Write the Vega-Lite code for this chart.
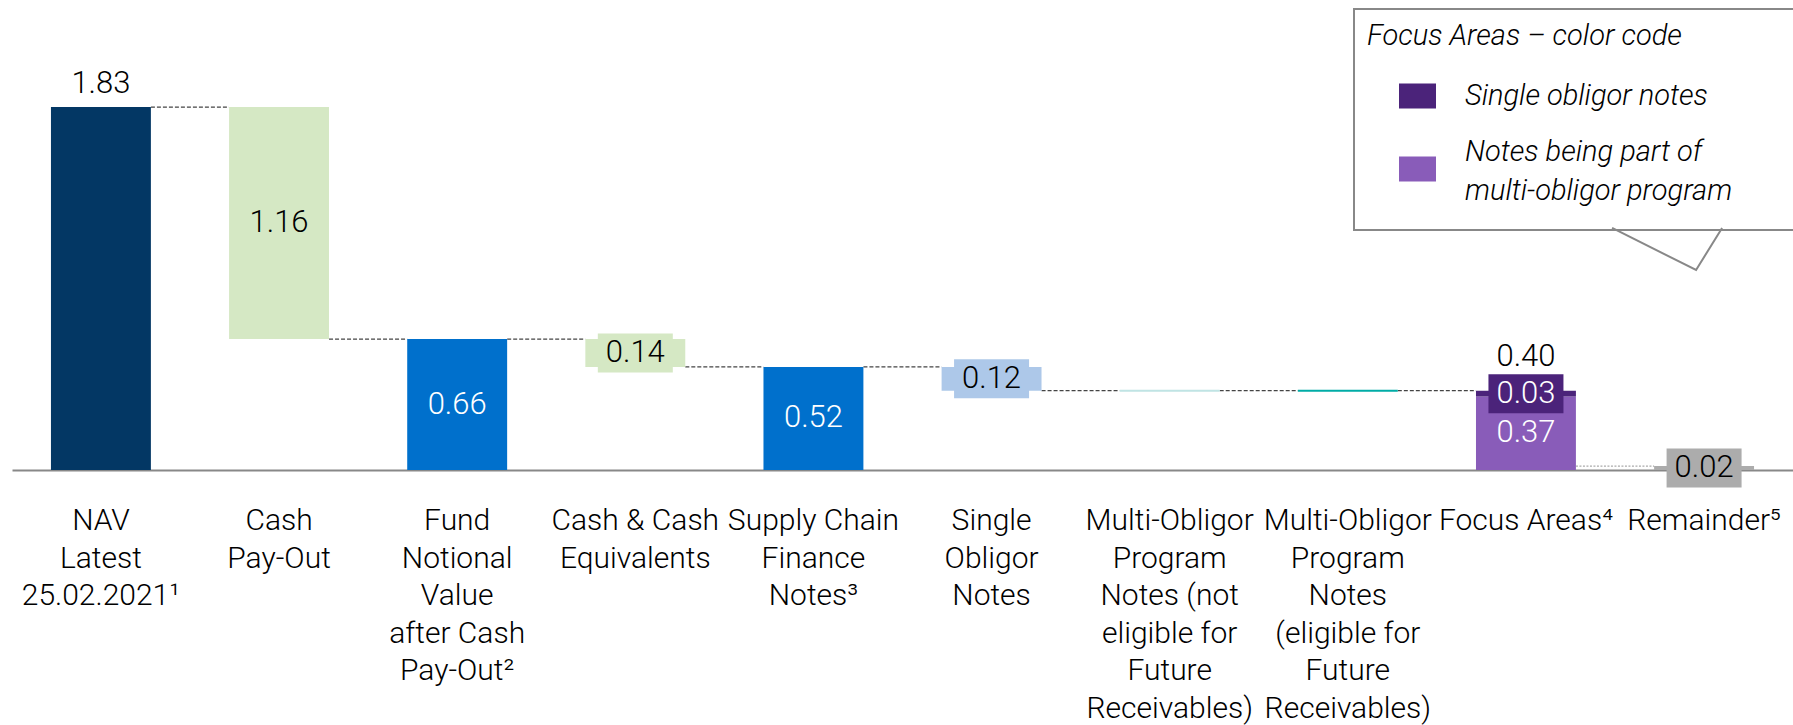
{
  "$schema": "https://vega.github.io/schema/vega-lite/v6.json",
  "autosize": {"type": "none"},
  "padding": {"left": 12, "top": 0, "right": 0, "bottom": 255},
  "width": 1781,
  "height": 470,
  "background": "white",
  "config": {"view": {"stroke": null}, "legend": {"strokeWidth": 2}},
  "datasets": {
    "bars": [
      {"cat": "NAV|Latest|25.02.2021¹", "seg": "NAV", "start": 0, "end": 1.83, "label": "1.83"},
      {"cat": "Cash|Pay-Out", "seg": "Cash Pay-Out", "start": 1.83, "end": 0.66, "label": "1.16"},
      {"cat": "Fund|Notional|Value|after Cash|Pay-Out²", "seg": "Fund Notional Value", "start": 0, "end": 0.66, "label": "0.66"},
      {"cat": "Cash & Cash|Equivalents", "seg": "Cash & Cash Equivalents", "start": 0.66, "end": 0.52, "label": "0.14"},
      {"cat": "Supply Chain|Finance|Notes³", "seg": "Supply Chain Finance Notes", "start": 0, "end": 0.52, "label": "0.52"},
      {"cat": "Single|Obligor|Notes", "seg": "Single Obligor Notes", "start": 0.52, "end": 0.40, "label": "0.12"},
      {"cat": "Multi-Obligor|Program|Notes (not|eligible for|Future|Receivables)", "seg": "Multi-Obligor (not eligible)", "start": 0.40, "end": 0.40, "label": "0.00"},
      {"cat": "Multi-Obligor|Program|Notes|(eligible for|Future|Receivables)", "seg": "Multi-Obligor (eligible)", "start": 0.40, "end": 0.40, "label": "0.00"},
      {"cat": "Focus Areas⁴", "seg": "Notes being part of multi-obligor program", "start": 0, "end": 0.37, "label": "0.37"},
      {"cat": "Focus Areas⁴", "seg": "Single obligor notes", "start": 0.37, "end": 0.40, "label": "0.03"},
      {"cat": "Remainder⁵", "seg": "Remainder", "start": 0.02, "end": 0, "label": "0.02"}
    ],
    "links": [
      {"from": "NAV|Latest|25.02.2021¹", "to": "Cash|Pay-Out", "level": 1.83},
      {"from": "Cash|Pay-Out", "to": "Fund|Notional|Value|after Cash|Pay-Out²", "level": 0.66},
      {"from": "Fund|Notional|Value|after Cash|Pay-Out²", "to": "Cash & Cash|Equivalents", "level": 0.66},
      {"from": "Cash & Cash|Equivalents", "to": "Supply Chain|Finance|Notes³", "level": 0.52},
      {"from": "Supply Chain|Finance|Notes³", "to": "Single|Obligor|Notes", "level": 0.52},
      {"from": "Single|Obligor|Notes", "to": "Multi-Obligor|Program|Notes (not|eligible for|Future|Receivables)", "level": 0.40},
      {"from": "Multi-Obligor|Program|Notes (not|eligible for|Future|Receivables)", "to": "Multi-Obligor|Program|Notes|(eligible for|Future|Receivables)", "level": 0.40},
      {"from": "Multi-Obligor|Program|Notes|(eligible for|Future|Receivables)", "to": "Focus Areas⁴", "level": 0.40},
      {"from": "Focus Areas⁴", "to": "Remainder⁵", "level": 0.02}
    ],
    "totals": [
      {"cat": "Focus Areas⁴", "value": 0.40, "label": "0.40"}
    ]
  },
  "encoding": {
    "x": {
      "field": "cat",
      "type": "nominal",
      "scale": {
        "type": "band",
        "domain": [
          "NAV|Latest|25.02.2021¹",
          "Cash|Pay-Out",
          "Fund|Notional|Value|after Cash|Pay-Out²",
          "Cash & Cash|Equivalents",
          "Supply Chain|Finance|Notes³",
          "Single|Obligor|Notes",
          "Multi-Obligor|Program|Notes (not|eligible for|Future|Receivables)",
          "Multi-Obligor|Program|Notes|(eligible for|Future|Receivables)",
          "Focus Areas⁴",
          "Remainder⁵"
        ],
        "paddingInner": 0.439,
        "paddingOuter": 0.2187
      },
      "axis": {
        "title": null,
        "labelExpr": "split(datum.label, '|')",
        "labelAngle": 0,
        "labelFont": "Roboto",
        "labelFontWeight": 300,
        "labelFontSize": 30,
        "labelColor": "#000000",
        "labelLineHeight": 37.5,
        "labelPadding": 35.5,
        "labelBaseline": "top",
        "ticks": false,
        "tickSize": 0,
        "domainColor": "#888888",
        "domainWidth": 2,
        "labelOverlap": false,
        "labelBound": false,
        "labelLimit": 400,
        "grid": false
      }
    }
  },
  "layer": [
    {
      "data": {"name": "links"},
      "transform": [{"filter": "datum.to != 'Remainder⁵'"}],
      "mark": {"type": "rule", "color": "#444444", "strokeWidth": 1.3, "strokeDash": [4, 2], "xOffset": 50, "x2Offset": -50},
      "encoding": {
        "x": {"field": "from", "type": "nominal"},
        "x2": {"field": "to"},
        "y": {"field": "level", "type": "quantitative", "scale": {"domain": [0, 2.37], "nice": false, "zero": false}, "axis": null}
      }
    },
    {
      "data": {"name": "links"},
      "transform": [{"filter": "datum.to == 'Remainder⁵'"}],
      "mark": {"type": "rule", "color": "#aaaaaa", "strokeWidth": 1.3, "strokeDash": [2, 1.5], "xOffset": 50, "x2Offset": -50},
      "encoding": {
        "x": {"field": "from", "type": "nominal"},
        "x2": {"field": "to"},
        "y": {"field": "level", "type": "quantitative"}
      }
    },
    {
      "data": {"name": "bars"},
      "transform": [{"filter": "datum.start != datum.end"}],
      "mark": {"type": "bar"},
      "encoding": {
        "y": {"field": "end", "type": "quantitative"},
        "y2": {"field": "start"},
        "color": {
          "field": "seg",
          "type": "nominal",
          "scale": {
            "domain": ["NAV", "Cash Pay-Out", "Fund Notional Value", "Cash & Cash Equivalents", "Supply Chain Finance Notes", "Single Obligor Notes", "Multi-Obligor (not eligible)", "Multi-Obligor (eligible)", "Single obligor notes", "Notes being part of multi-obligor program", "Remainder"],
            "range": ["#033764", "#d5e8c4", "#0070cc", "#d5e8c4", "#0070cc", "#adc8e9", "#c0e4e4", "#00aca6", "#4b237a", "#895cb9", "#acacac"]
          },
          "legend": {
            "values": ["Single obligor notes", "Notes being part of multi-obligor program"],
            "title": "Focus Areas – color code",
            "orient": "none",
            "legendX": 1342,
            "legendY": 9,
            "direction": "vertical",
            "strokeColor": "#888888",
            "padding": 13,
            "titleFont": "Roboto",
            "titleFontSize": 29,
            "titleFontStyle": "italic",
            "titleFontWeight": 300,
            "titleColor": "#000000",
            "titlePadding": 26.5,
            "titleLimit": 800,
            "labelFont": "Roboto",
            "labelFontSize": 29,
            "labelFontStyle": "italic",
            "labelFontWeight": 300,
            "labelColor": "#000000",
            "labelLimit": 800,
            "labelOffset": 29,
            "labelExpr": "datum.label == 'Notes being part of multi-obligor program' ? ['Notes being part of', 'multi-obligor program'] : datum.label",
            "symbolType": "M-1,-0.676H1V0.676H-1ZM19.8,2.57",
            "symbolSize": 1369,
            "symbolOffset": 32,
            "symbolStrokeWidth": 0,
            "symbolOpacity": 1,
            "rowPadding": -7,
            "encode": {"labels": {"update": {"lineHeight": {"value": 39}, "dy": {"signal": "datum.value == 'Notes being part of multi-obligor program' ? -17.5 : 0"}}}}
          }
        }
      }
    },
    {
      "data": {"name": "bars"},
      "transform": [{"filter": "datum.start == datum.end"}],
      "mark": {"type": "bar", "filled": false, "strokeWidth": 2},
      "encoding": {
        "y": {"field": "end", "type": "quantitative"},
        "y2": {"field": "start"},
        "color": {"field": "seg", "type": "nominal"}
      }
    },
    {
      "data": {"name": "bars"},
      "transform": [
        {"filter": {"field": "label", "oneOf": ["0.14", "0.12", "0.03", "0.02"]}},
        {"fold": ["start", "end"], "as": ["k", "v"]},
        {"aggregate": [{"op": "mean", "field": "v", "as": "mid"}], "groupby": ["cat", "seg", "label"]}
      ],
      "mark": {"type": "bar", "width": 75, "yOffset": -19.5, "y2Offset": 19.5},
      "encoding": {
        "y": {"field": "mid", "type": "quantitative"},
        "y2": {"field": "mid"},
        "color": {"field": "seg", "type": "nominal"}
      }
    },
    {
      "data": {"name": "bars"},
      "transform": [
        {"filter": {"field": "label", "oneOf": ["1.16", "0.14", "0.12", "0.02"]}},
        {"fold": ["start", "end"], "as": ["k", "v"]},
        {"aggregate": [{"op": "mean", "field": "v", "as": "mid"}], "groupby": ["cat", "label"]}
      ],
      "mark": {"type": "text", "font": "Roboto", "fontWeight": 300, "fontSize": 31, "color": "#000000", "baseline": "middle", "align": "center"},
      "encoding": {
        "y": {"field": "mid", "type": "quantitative"},
        "text": {"field": "label"}
      }
    },
    {
      "data": {"name": "bars"},
      "transform": [
        {"filter": {"field": "label", "oneOf": ["0.66", "0.52", "0.37", "0.03"]}},
        {"fold": ["start", "end"], "as": ["k", "v"]},
        {"aggregate": [{"op": "mean", "field": "v", "as": "mid"}], "groupby": ["cat", "label"]}
      ],
      "mark": {"type": "text", "font": "Roboto", "fontWeight": 300, "fontSize": 31, "color": "#ffffff", "baseline": "middle", "align": "center"},
      "encoding": {
        "y": {"field": "mid", "type": "quantitative"},
        "text": {"field": "label"}
      }
    },
    {
      "data": {"name": "bars"},
      "transform": [{"filter": "datum.label == '1.83'"}],
      "mark": {"type": "text", "font": "Roboto", "fontWeight": 300, "fontSize": 31, "color": "#000000", "baseline": "alphabetic", "align": "center", "dy": -14},
      "encoding": {
        "y": {"field": "end", "type": "quantitative"},
        "text": {"field": "label"}
      }
    },
    {
      "data": {"name": "totals"},
      "mark": {"type": "text", "font": "Roboto", "fontWeight": 300, "fontSize": 31, "color": "#000000", "baseline": "alphabetic", "align": "center", "dy": -25},
      "encoding": {
        "y": {"field": "value", "type": "quantitative"},
        "text": {"field": "label"}
      }
    },
    {
      "data": {"values": [{"note": "callout pointer"}]},
      "mark": {"type": "point", "shape": "M-1,-0.2283L-0.087,0.2283L0.1957,-0.2283", "size": 33856, "filled": false, "stroke": "#888888", "strokeWidth": 2, "opacity": 1},
      "encoding": {
        "x": {"datum": "Remainder⁵", "type": "nominal"},
        "y": {"datum": 1.1145, "type": "quantitative"}
      }
    }
  ]
}
